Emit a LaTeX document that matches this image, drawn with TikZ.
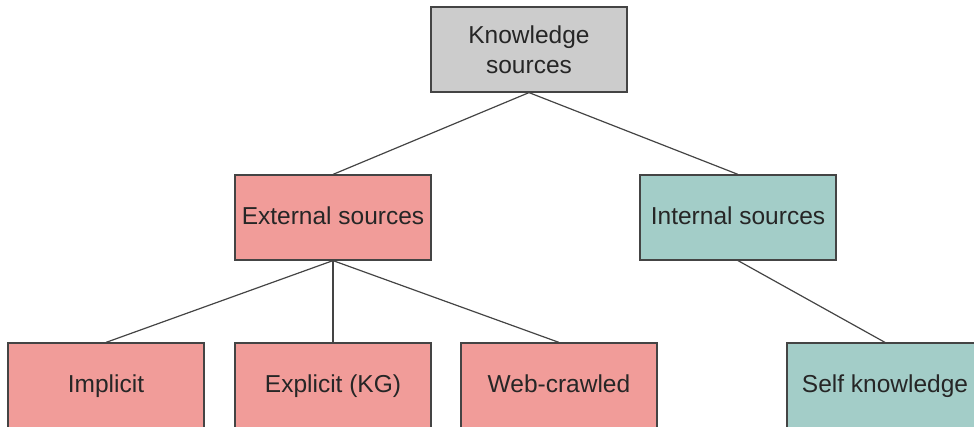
\documentclass[tikz,border=0pt]{standalone}
\usepackage{fontspec}
\setmainfont{Liberation Sans}
\definecolor{rootgray}{HTML}{CCCCCC}
\definecolor{extred}{HTML}{F19C99}
\definecolor{intteal}{HTML}{A3CDC8}
\definecolor{edgegray}{HTML}{444444}
\begin{document}
\begin{tikzpicture}
  [x=1pt,y=-1pt,every node/.style={rectangle,draw=edgegray,line width=1.2pt,minimum width=196pt,minimum height=85pt,align=center,inner sep=2pt,text=black!85,font=\fontsize{24.5}{30}\selectfont},
   oneline/.style={text height=18pt,text depth=5pt}]
  \useasboundingbox (0,0) rectangle (974,426);
  \node[fill=rootgray] (ks) at (529,49.5) {Knowledge\\sources};
  \node[fill=extred,oneline] (ext) at (333,217.5) {External sources};
  \node[fill=intteal,oneline] (int) at (738,217.5) {Internal sources};
  \node[fill=extred,oneline] (imp) at (106,385.5) {Implicit};
  \node[fill=extred,oneline] (kg) at (333,385.5) {Explicit (KG)};
  \node[fill=extred,oneline] (web) at (559,385.5) {Web-crawled};
  \node[fill=intteal,oneline] (self) at (885,385.5) {Self knowledge};

  \foreach \from/\to in {ks/ext,ks/int,ext/imp,ext/kg,ext/web,int/self}
    \draw[edgegray,line width=1.2pt] (\from.south) -- (\to.north);
\end{tikzpicture}
\end{document}
